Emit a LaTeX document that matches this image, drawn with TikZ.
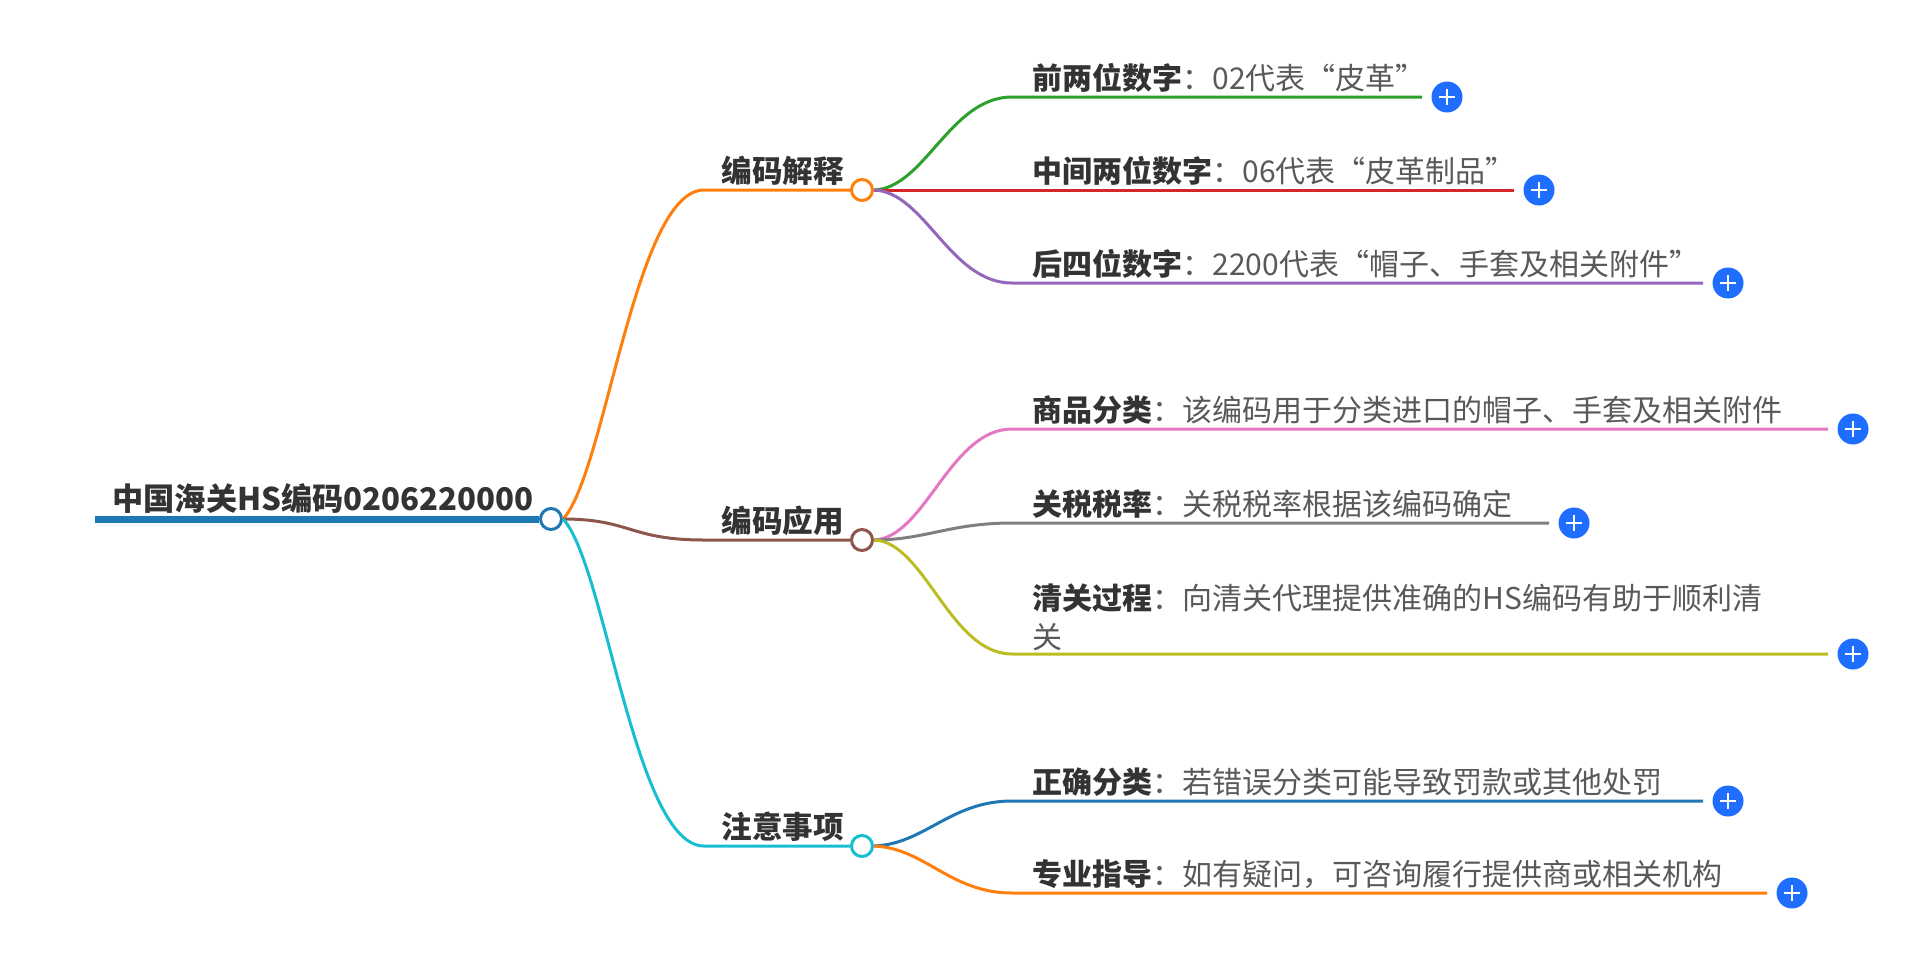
\documentclass[tikz,border=0pt]{standalone}
\usepackage{fontspec}
\setmainfont{Noto Sans CJK SC}
\usepackage{tikz}
\usetikzlibrary{positioning}

\definecolor{c-blue}{HTML}{1F77B4}
\definecolor{c-orange}{HTML}{FF7F0E}
\definecolor{c-green}{HTML}{2CA02C}
\definecolor{c-red}{HTML}{D62728}
\definecolor{c-purple}{HTML}{9467BD}
\definecolor{c-brown}{HTML}{8C564B}
\definecolor{c-pink}{HTML}{E377C2}
\definecolor{c-gray}{HTML}{7F7F7F}
\definecolor{c-olive}{HTML}{BCBD22}
\definecolor{c-cyan}{HTML}{17BECF}
\definecolor{plusblue}{HTML}{1F6EFF}
\definecolor{txtdark}{HTML}{333333}
\definecolor{txtlight}{HTML}{595959}

\newcommand\keyterm[1]{{\bfseries\color{txtdark}#1}}

\begin{document}
\begin{tikzpicture}[x=0.5pt, y=-0.5pt, every node/.style={inner sep=0pt, font=\fontsize{15}{19.5}\selectfont},
  hub/.style={circle, draw=#1, line width=1.5pt, fill=white, minimum size=10.5pt},
  branch/.style={draw=#1, line width=1.5pt},
  hubtext/.style={anchor=base west, text=txtdark, font=\bfseries\fontsize{15.3}{19.5}\selectfont},
  leaftext/.style={anchor=base west, text=txtlight, align=left},
  plusdot/.style={circle, fill=plusblue, minimum size=15.5pt, path picture={
    \draw[white, line width=1.1pt] ([xshift=-3.9pt]path picture bounding box.center) -- ([xshift=3.9pt]path picture bounding box.center)
      ([yshift=-3.9pt]path picture bounding box.center) -- ([yshift=3.9pt]path picture bounding box.center);}}]

\useasboundingbox (0,0) rectangle (1920,953);

  % Root
  \coordinate (root-start) at (95,519);
  \node (root) [hub=c-blue] at (551,519) {};
  \node (root-label) [hubtext, font=\bfseries\fontsize{15.6}{19.5}\selectfont] at (112,510) {中国海关HS编码0206220000};
  \draw[draw=c-blue, line width=3.5pt] (root-start) -- (root);

  % First level
  \coordinate (explain-in) at (704,190);
  \coordinate (apply-in) at (704,540);
  \coordinate (notes-in) at (704,846);
  \node (explain) [hub=c-orange] at (862,190) {};
  \node (apply) [hub=c-brown] at (862,540) {};
  \node (notes) [hub=c-cyan] at (862,846) {};
  \node (explain-label) [hubtext] at (721,182) {编码解释};
  \node (apply-label) [hubtext] at (721,532) {编码应用};
  \node (notes-label) [hubtext] at (721,838) {注意事项};

  \draw[branch=c-orange] (root.east) .. controls (605,475) and (635,190) .. (explain-in) -- (explain);
  \draw[branch=c-brown] (root.east) .. controls (630,519) and (630,540) .. (apply-in) -- (apply);
  \draw[branch=c-cyan] (root.east) .. controls (605,563) and (635,846) .. (notes-in) -- (notes);

  % Codes
  \coordinate (lead-in) at (1012,97);
  \coordinate (lead-end) at (1422,97);
  \node (lead-plus) [plusdot] at (1447,97) {};
  \node (lead-label) [leaftext] at (1032,89) {\keyterm{前两位数字}：02代表“皮革”};
  \draw[branch=c-green] (explain.east) .. controls (925,188) and (950,97) .. (lead-in) -- (lead-end);

  \coordinate (mid-in) at (1012,190);
  \coordinate (mid-end) at (1514,190);
  \node (mid-plus) [plusdot] at (1539,190) {};
  \node (mid-label) [leaftext] at (1032,182) {\keyterm{中间两位数字}：06代表“皮革制品”};
  \draw[branch=c-red] (explain.east) .. controls (925,190) and (950,190) .. (mid-in) -- (mid-end);

  \coordinate (tail-in) at (1012,283);
  \coordinate (tail-end) at (1703,283);
  \node (tail-plus) [plusdot] at (1728,283) {};
  \node (tail-label) [leaftext] at (1032,275) {\keyterm{后四位数字}：2200代表“帽子、手套及相关附件”};
  \draw[branch=c-purple] (explain.east) .. controls (925,192) and (950,283) .. (tail-in) -- (tail-end);

  % Uses
  \coordinate (goods-in) at (1012,429);
  \coordinate (goods-end) at (1828,429);
  \node (goods-plus) [plusdot] at (1853,429) {};
  \node (goods-label) [leaftext] at (1032,421) {\keyterm{商品分类}：该编码用于分类进口的帽子、手套及相关附件};
  \draw[branch=c-pink] (apply.east) .. controls (925,538) and (950,429) .. (goods-in) -- (goods-end);

  \coordinate (tariff-in) at (1012,523);
  \coordinate (tariff-end) at (1549,523);
  \node (tariff-plus) [plusdot] at (1574,523) {};
  \node (tariff-label) [leaftext] at (1032,515) {\keyterm{关税税率}：关税税率根据该编码确定};
  \draw[branch=c-gray] (apply.east) .. controls (925,540) and (950,523) .. (tariff-in) -- (tariff-end);

  \coordinate (clear-in) at (1012,654);
  \coordinate (clear-end) at (1828,654);
  \node (clear-plus) [plusdot] at (1853,654) {};
  \node (clear-label) [leaftext, anchor=south west] at (1032,651) {\keyterm{清关过程}：向清关代理提供准确的HS编码有助于顺利清\\关};
  \draw[branch=c-olive] (apply.east) .. controls (925,542) and (950,654) .. (clear-in) -- (clear-end);

  % Notes
  \coordinate (right-in) at (1012,801);
  \coordinate (right-end) at (1703,801);
  \node (right-plus) [plusdot] at (1728,801) {};
  \node (right-label) [leaftext] at (1032,793) {\keyterm{正确分类}：若错误分类可能导致罚款或其他处罚};
  \draw[branch=c-blue] (notes.east) .. controls (925,844) and (950,801) .. (right-in) -- (right-end);

  \coordinate (help-in) at (1012,893);
  \coordinate (help-end) at (1767,893);
  \node (help-plus) [plusdot] at (1792,893) {};
  \node (help-label) [leaftext] at (1032,885) {\keyterm{专业指导}：如有疑问，可咨询履行提供商或相关机构};
  \draw[branch=c-orange] (notes.east) .. controls (925,848) and (950,893) .. (help-in) -- (help-end);

\end{tikzpicture}
\end{document}
